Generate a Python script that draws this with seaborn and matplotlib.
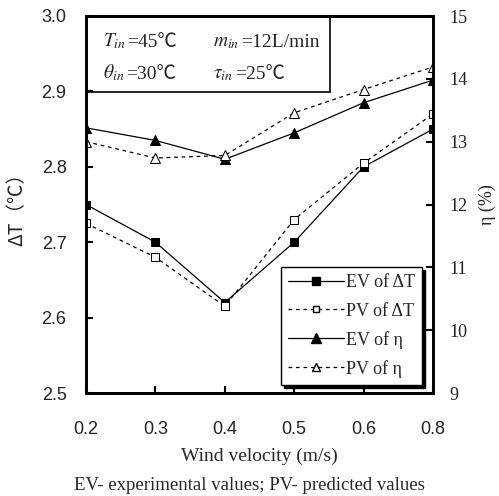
import numpy as np
import pandas as pd
import matplotlib
matplotlib.use("Agg")
import matplotlib.pyplot as plt
import seaborn as sns
from matplotlib.patches import Rectangle
from matplotlib.lines import Line2D

# ---- data ----
wind = ["0.2", "0.3", "0.4", "0.5", "0.6", "0.8"]
ev_dT = [2.75, 2.70, 2.62, 2.70, 2.80, 2.85]
pv_dT = [2.725, 2.68, 2.615, 2.73, 2.805, 2.87]
ev_eta = [13.22, 13.02, 12.72, 13.14, 13.62, 13.98]
pv_eta = [13.00, 12.74, 12.78, 13.46, 13.83, 14.19]
left_ticks = [2.5, 2.6, 2.7, 2.8, 2.9, 3.0]
right_ticks = [9, 10, 11, 12, 13, 14, 15]

sns.set_theme(style="white")
plt.rcParams["mathtext.fontset"] = "stix"
plt.rcParams["font.family"] = ["Liberation Serif", "DejaVu Serif"]

df = pd.DataFrame({"wind": wind, "ev_dT": ev_dT, "pv_dT": pv_dT,
                   "ev_eta": ev_eta, "pv_eta": pv_eta})

fig = plt.figure(figsize=(4.99, 4.96), dpi=100)
ax = fig.add_axes([86/499, 1-393/496, (433-86)/499, (393-16)/496])
ax2 = ax.twinx()

sns.lineplot(data=df, x="wind", y="ev_dT", ax=ax, color="black", lw=0.9,
             marker="s", markersize=6, markerfacecolor="black",
             markeredgecolor="black", sort=False)
sns.lineplot(data=df, x="wind", y="pv_dT", ax=ax, color="black", lw=0.9,
             linestyle=(0, (3, 3)), marker="s", markersize=6,
             markerfacecolor="white", markeredgecolor="black", sort=False)
sns.lineplot(data=df, x="wind", y="ev_eta", ax=ax2, color="black", lw=0.9,
             marker="^", markersize=7, markerfacecolor="black",
             markeredgecolor="black", sort=False)
sns.lineplot(data=df, x="wind", y="pv_eta", ax=ax2, color="black", lw=0.9,
             linestyle=(0, (3, 3)), marker="^", markersize=7,
             markerfacecolor="white", markeredgecolor="black", sort=False)

ax.set_xlim(0, len(wind) - 1)
ax.set_ylim(2.5, 3.0)
ax2.set_ylim(9, 15)
ax.set_yticks(left_ticks)
ax.set_yticklabels([f"{v:.1f}" for v in left_ticks], family="Liberation Sans", fontsize=13)
ax.set_xticks(range(len(wind)))
ax.set_xticklabels(wind, family="Liberation Sans", fontsize=13)
ax2.set_yticks(right_ticks)
ax2.set_yticklabels([str(v) for v in right_ticks], family="Liberation Serif", fontsize=13)

for a in (ax, ax2):
    for s in a.spines.values():
        s.set_visible(True)
        s.set_color("black")
        s.set_linewidth(2)
ax.tick_params(axis="y", direction="in", length=5, width=1.5, color="black",
               left=True, pad=14, labelcolor="#222222")
ax.tick_params(axis="x", direction="in", length=5, width=1.5, color="black",
               bottom=True, pad=20, labelcolor="#222222")
ax2.tick_params(axis="y", direction="in", length=5, width=1.5, color="black",
                right=True, pad=12, labelcolor="#222222")

ax.set_xlabel("Wind velocity (m/s)", fontsize=14, family="Liberation Serif", labelpad=7)
ax.set_ylabel("ΔT（℃）", fontsize=14, family=["Noto Sans CJK SC", "DejaVu Sans"], labelpad=10)
ax2.set_ylabel("η (%)", fontsize=13, family=["Liberation Serif", "DejaVu Serif"], labelpad=8)

# inset conditions box
ax.add_patch(Rectangle((0, 1 - 76/377), (330-86)/347, 76/377, transform=ax.transAxes,
                       fill=False, edgecolor="black", lw=1.2, zorder=5))
tkw = dict(transform=ax.transAxes, fontsize=14, va="baseline", ha="left")
rest_fam = ["Liberation Serif", "Noto Sans CJK SC"]

def cond(x, y, sym, rest):
    t = ax.text(x, y, sym, **tkw)
    ax.annotate(rest, xy=(1, 0), xycoords=t, xytext=(1, 0), textcoords="offset points",
                fontsize=14, va="bottom", ha="left", family=rest_fam)

cond(17/347, 1 - 30/377, r"$T_{in}$", "=45℃")
cond(127/347, 1 - 30/377, r"$m_{in}$", "=12L/min")
cond(17/347, 1 - 62/377, r"$\theta_{in}$", "=30℃")
cond(127/347, 1 - 62/377, r"$\tau_{in}$", "=25℃")

handles = [
    Line2D([], [], color="black", lw=0.9, marker="s", markersize=6, markerfacecolor="black"),
    Line2D([], [], color="black", lw=0.9, linestyle=(0, (3, 3)), marker="s", markersize=5, markerfacecolor="white"),
    Line2D([], [], color="black", lw=0.9, marker="^", markersize=7, markerfacecolor="black"),
    Line2D([], [], color="black", lw=0.9, linestyle=(0, (3, 3)), marker="^", markersize=6, markerfacecolor="white"),
]
labels = ["EV of ΔT", "PV of ΔT", "EV of η", "PV of η"]
leg = ax2.legend(handles, labels, loc="lower right", bbox_to_anchor=(1 - 11/347, 8/377),
                 frameon=True, fancybox=False, framealpha=1, edgecolor="black",
                 fontsize=13, handlelength=3.1, handletextpad=0.1, labelspacing=0.62,
                 borderpad=0.4, borderaxespad=0,
                 shadow={"facecolor": "black", "edgecolor": "black", "alpha": 1})
leg.get_frame().set_linewidth(1.0)
for t in leg.get_texts():
    t.set_family(["Liberation Serif", "DejaVu Serif"])

fig.text(0.5, 1 - 485/496, "EV- experimental values; PV- predicted values",
         ha="center", va="center", fontsize=13.5, family="Liberation Serif")

fig.savefig("out.png", dpi=100)
